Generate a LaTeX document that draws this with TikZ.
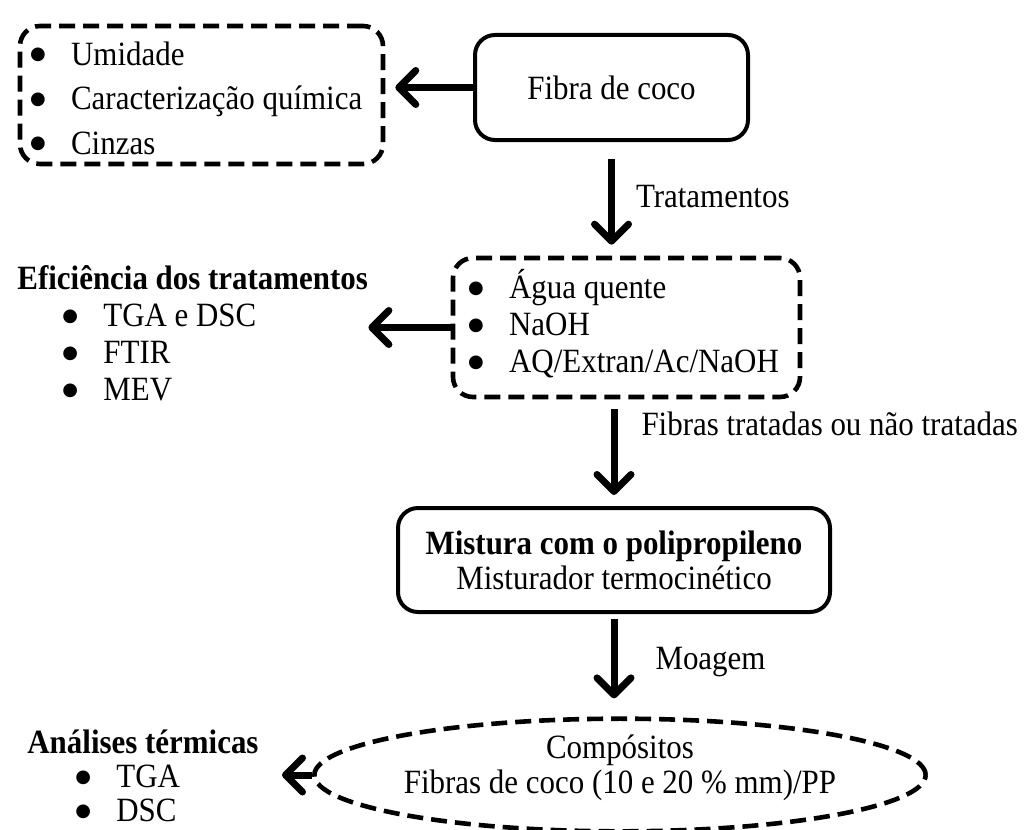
\documentclass[tikz,border=0pt]{standalone}
\usepackage{fontspec}
\setmainfont{Liberation Serif}[FakeStretch=0.91]
\newfontfamily\bulfont{DejaVu Sans}
\usetikzlibrary{arrows.meta,shapes.geometric}
\newcommand{\itm}[1]{\makebox[20.5pt][l]{\raisebox{2.6pt}{\bulfont\fontsize{9}{9}\selectfont ●}}#1}

\begin{document}
\begin{tikzpicture}[x=0.5pt,y=-0.5pt,
  every node/.style={font=\fontsize{17}{18.5}\selectfont},
  solidbox/.style={draw,line width=2pt,rounded corners=10pt,align=center},
  dashbox/.style={draw,line width=2.3pt,dash pattern=on 8pt off 4pt,rounded corners=10pt},
  list/.style={anchor=west,inner sep=0pt,align=left},
  flow/.style={line width=3.5pt,-{Straight Barb[length=8.5pt,width=17pt,line cap=round,line join=round]}},
  lbl/.style={anchor=west,inner sep=0pt}]
		\useasboundingbox (0,0) rectangle (1031,829);
		% boxes of the main flow
		\node[solidbox, minimum width=136.5pt, minimum height=52.5pt] (fibra) at (611.5,87.5) {Fibra de coco};
		\node[dashbox, minimum width=181.5pt, minimum height=69pt] (props) at (201.5,95) {};
		\node[list, font=\fontsize{17}{22.25}\selectfont] (propslist) at ([xshift=6pt,yshift=-1.5pt]props.west) {\itm{Umidade}\\ \itm{Caracterização química}\\ \itm{Cinzas}};
		\node[dashbox, minimum width=173.5pt, minimum height=69.5pt] (trat) at (626.5,327.5) {};
		\node[list] (tratlist) at ([xshift=8.5pt,yshift=2pt]trat.west) {\itm{Água quente}\\ \itm{NaOH}\\ \itm{AQ/Extran/Ac/NaOH}};
		\node[solidbox, minimum width=216pt, minimum height=52pt, font=\fontsize{17}{17.5}\selectfont] (mist) at (614,560) {\textbf{Mistura com o polipropileno}\\ Misturador termocinético};
		\node[ellipse, draw, line width=2.3pt, dash pattern=on 8pt off 4pt, minimum width=263pt, minimum height=50pt, inner sep=0pt, align=center, font=\fontsize{17}{17.5}\selectfont] (comp) at (620,775) {Compósitos\\ Fibras de coco (10 e 20 \% mm)/PP\\[-7pt]};
		% analyses on the left
		\node[list] (efic) at (17,333) {\textbf{Eficiência dos tratamentos}\\ \hspace*{22.5pt}\itm{TGA e DSC}\\ \hspace*{22.5pt}\itm{FTIR}\\ \hspace*{22.5pt}\itm{MEV}};
		\node[list, font=\fontsize{17}{17}\selectfont] (anal) at (27,776) {\textbf{Análises térmicas}\\ \hspace*{24pt}\itm{TGA}\\ \hspace*{24pt}\itm{DSC}};
		\coordinate (atip) at (282,775);
		% arrows
		\draw[flow, shorten >=5pt] (fibra.west) -- (fibra.west -| props.east);
		\draw[flow] (trat.west) -- (trat.west -| efic.east);
		\draw[flow] (comp.west) -- (atip);
		\draw[flow, shorten <=8.5pt, shorten >=5.5pt] (fibra.south) -- node[lbl, pos=.48, xshift=10.5pt] (ltrat) {Tratamentos} (fibra.south |- trat.north);
		\draw[flow, shorten <=5pt, shorten >=5.5pt] (mist.north |- trat.south) -- node[lbl, pos=.23, xshift=12pt] (lfib) {Fibras tratadas ou não tratadas} (mist.north);
		\draw[flow, shorten <=2.5pt, shorten >=9pt] (mist.south) -- node[lbl, pos=.47, xshift=19pt] (lmoa) {Moagem} (mist.south |- comp.north);
\end{tikzpicture}
\end{document}
